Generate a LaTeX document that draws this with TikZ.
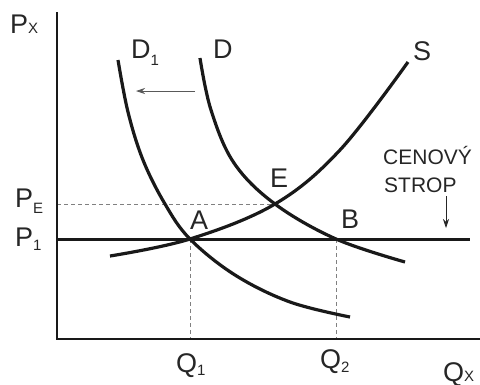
\documentclass[tikz,border=0pt]{standalone}
\usepackage{fontspec}
\setmainfont{Liberation Sans}
\usetikzlibrary{arrows.meta}
\newcommand{\lsub}[2]{\raisebox{-#1pt}{\fontsize{15}{15}\selectfont #2}}
\begin{document}
\begin{tikzpicture}[x=1pt,y=-1pt,
  curve/.style={line width=3.2pt,black!90},
  axis/.style={line width=2pt,black!90},
  guide/.style={gray,line width=0.7pt,dash pattern=on 4pt off 3pt},
  lab/.style={inner sep=0pt,text=black!85,font=\fontsize{27}{27}\selectfont},
  sublab/.style={inner sep=0pt,text=black!85,font=\fontsize{21}{21}\selectfont}]
\useasboundingbox (0,0) rectangle (480,384);
% points
\coordinate (O) at (57,339);
\coordinate (ytop) at (57,12);
\coordinate (xend) at (480,339);
\coordinate (P1l) at (57,239);
\coordinate (P1r) at (470,239);
\coordinate (PEl) at (57,204);
\coordinate (A) at (190,239);
\coordinate (B) at (336,239);
\coordinate (E) at (275,204);
\coordinate (Q1) at (190,339);
\coordinate (Q2) at (336,339);
% guides
\draw[guide] (PEl) -- (E);
\draw[guide] (A) -- (Q1);
\draw[guide] (B) -- (Q2);
% axes
\draw[axis] (ytop) -- (O) -- (xend);
\draw[curve,line width=3pt] (P1l) -- (P1r);
% curves
\draw[curve] plot[smooth,tension=0.6] coordinates {(118,60) (128,112) (143,160) (165,204) (190,239) (235,275) (290,302) (350,317)};
\draw[curve] plot[smooth,tension=0.6] coordinates {(200,58) (211,110) (234,163) (275,204) (336,239) (405,262)};
\draw[curve] plot[smooth,tension=0.6] coordinates {(110,256) (190,239) (275,204) (340,150) (408,62)};
% shift arrow
\coordinate (sa) at (195,91);
\coordinate (sb) at (136,91);
\draw[gray!70!black,line width=0.8pt,-{Stealth[length=9pt,width=6pt]}] (sa) -- (sb);
% ceiling arrow
\coordinate (ca) at (446,196);
\coordinate (cb) at (446,228);
\draw[black!85,line width=0.8pt,-{Stealth[length=9pt,width=6pt]}] (ca) -- (cb);
% labels
\node[lab,anchor=base west] (lPx) at (10,33) {P\lsub{0}{X}};
\node[lab,anchor=base west] (lD1) at (131,58) {D\lsub{7}{1}};
\node[lab,anchor=base west] (lD) at (213,58) {D};
\node[lab,anchor=base west] (lS) at (413,60) {S};
\node[lab,anchor=base west] (lE) at (270,187) {E};
\node[lab,anchor=base west] (lA) at (190,229) {A};
\node[lab,anchor=base west] (lB) at (341,228) {B};
\node[lab,anchor=base west] (lPE) at (15,207) {P\lsub{6}{E}};
\node[lab,anchor=base west] (lP1) at (15,246) {P\lsub{4}{1}};
\node[lab,anchor=base west] (lQ1) at (176,372) {Q\lsub{3}{1}};
\node[lab,anchor=base west] (lQ2) at (320,368) {Q\lsub{4}{2}};
\node[lab,anchor=base west] (lQx) at (443,381) {Q\lsub{0}{X}};
\node[sublab,anchor=base west] (lC) at (383,164) {CENOVÝ};
\node[sublab,anchor=base west] (lSt) at (384,192) {STROP};
\end{tikzpicture}
\end{document}
